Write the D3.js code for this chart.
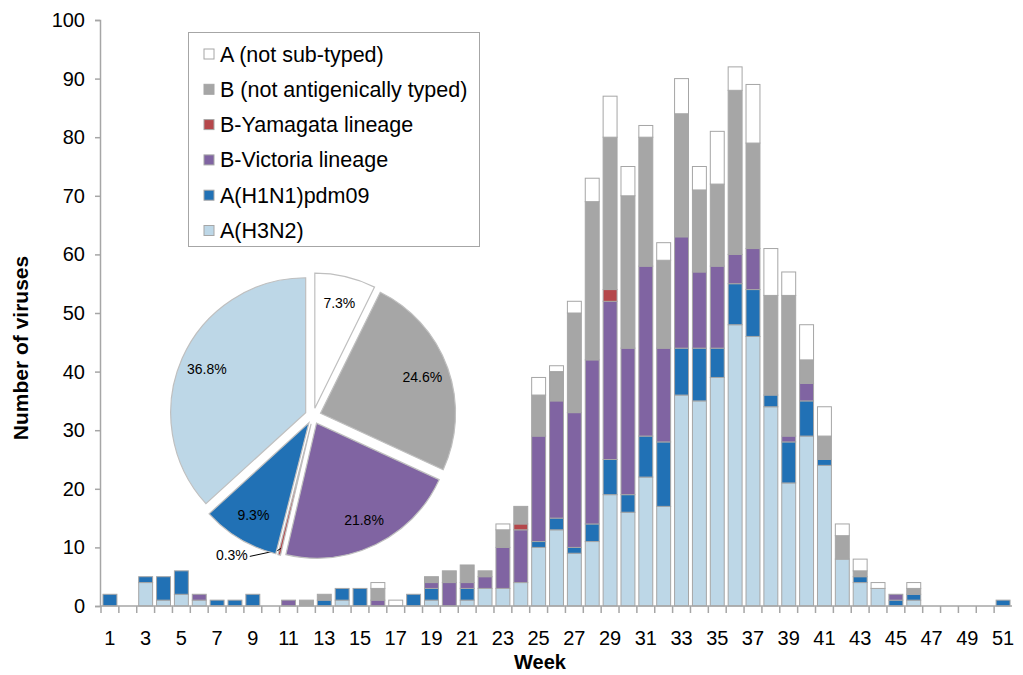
<!DOCTYPE html>
<html>
<head>
<meta charset="utf-8">
<script src="https://cdn.jsdelivr.net/npm/d3@7"></script>
<style>
  body { margin: 0; background: #fff; }
  svg { font-family: "Liberation Sans", Arial, sans-serif; }
</style>
</head>
<body>
<svg id="chart" width="1023" height="675"></svg>
<script>
// weeks 1..51
var weeks = d3.range(1, 52);
var tickWeeks = [1, 3, 5, 7, 9, 11, 13, 15, 17, 19, 21, 23, 25, 27, 29, 31, 33, 35, 37, 39, 41, 43, 45, 47, 49, 51];
var yTicks = [0, 10, 20, 30, 40, 50, 60, 70, 80, 90, 100];

// counts per week (index = week - 1)
var h3n2 = [0,0,4,1,2,1,0,0,0,0, 0,0,0,1,0,0,0,0,1,0, 1,3,3,4,10,13,9,11,19,16, 22,17,36,35,39,48,46,34,21,29, 24,8,4,3,0,1,0,0,0,0, 0];
var h1n1 = [2,0,1,4,4,0,1,1,2,0, 0,0,1,2,3,0,0,2,2,0, 2,0,0,0,1,2,1,3,6,3, 7,11,8,9,5,7,8,2,7,6, 1,0,1,0,1,1,0,0,0,0, 1];
var bVic = [0,0,0,0,0,1,0,0,0,0, 1,0,0,0,0,1,0,0,1,4, 1,2,7,9,18,20,23,28,27,25, 29,16,19,13,14,5,7,0,1,3, 0,0,0,0,1,0,0,0,0,0, 0];
var bYam = [0,0,0,0,0,0,0,0,0,0, 0,0,0,0,0,0,0,0,0,0, 0,0,0,1,0,0,0,0,2,0, 0,0,0,0,0,0,0,0,0,0, 0,0,0,0,0,0,0,0,0,0, 0];
var bNot = [0,0,0,0,0,0,0,0,0,0, 0,1,1,0,0,2,0,0,1,2, 3,1,3,3,7,5,17,27,26,26, 22,15,21,14,14,28,18,17,24,4, 4,4,1,0,0,1,0,0,0,0, 0];
var aNot = [0,0,0,0,0,0,0,0,0,0, 0,0,0,0,0,1,1,0,0,0, 0,0,1,0,3,1,2,4,7,5, 2,3,6,4,9,4,10,8,4,6, 5,2,2,1,0,1,0,0,0,0, 0];

// pie shares (%), clockwise from 12 o'clock
var pieKeys = ["aNot", "bNot", "bVic", "bYam", "h1n1", "h3n2"];
var pieShares = [7.3, 24.6, 21.8, 0.3, 9.3, 36.8];

var stackKeys = ["h3n2", "h1n1", "bVic", "bYam", "bNot", "aNot"];
var legendKeys = ["aNot", "bNot", "bYam", "bVic", "h1n1", "h3n2"];
var names = {
  aNot: "A (not sub-typed)",
  bNot: "B (not antigenically typed)",
  bYam: "B-Yamagata lineage",
  bVic: "B-Victoria lineage",
  h1n1: "A(H1N1)pdm09",
  h3n2: "A(H3N2)"
};
var colors = {
  aNot: "#ffffff",
  bNot: "#a6a6a6",
  bYam: "#b5474b",
  bVic: "#8064a2",
  h1n1: "#2171b5",
  h3n2: "#bdd7e7"
};
var series = {h3n2: h3n2, h1n1: h1n1, bVic: bVic, bYam: bYam, bNot: bNot, aNot: aNot};

var rows = weeks.map(function(w, i){
  var r = {week: w};
  stackKeys.forEach(function(k){ r[k] = series[k][i]; });
  return r;
});

var svg = d3.select("#chart");
var axisCol = "#a6a6a6";

var x = d3.scaleBand().domain(weeks).range([101, 1012]).paddingInner(0.22).paddingOuter(0.11);
var y = d3.scaleLinear().domain([0, 100]).range([606, 20]);

// bars
var stacked = d3.stack().keys(stackKeys)(rows);
svg.append("g").selectAll("g")
  .data(stacked)
  .join("g")
    .attr("fill", function(d){ return colors[d.key]; })
  .selectAll("rect")
  .data(function(d){ return d.filter(function(p){ return p[1] > p[0]; }); })
  .join("rect")
    .attr("x", function(d){ return x(d.data.week); })
    .attr("width", x.bandwidth())
    .attr("y", function(d){ return y(d[1]); })
    .attr("height", function(d){ return y(d[0]) - y(d[1]); })
    .attr("stroke", "#a6a6a6")
    .attr("stroke-width", 1);

// y axis
var yAxis = svg.append("g")
  .attr("transform", "translate(100,0)")
  .call(d3.axisLeft(y).tickValues(yTicks).tickSize(5).tickPadding(10));
yAxis.select(".domain").attr("stroke", axisCol).attr("stroke-width", 1.5);
yAxis.selectAll(".tick line").attr("stroke", axisCol).attr("stroke-width", 1.5);
yAxis.selectAll("text").attr("font-size", 20).attr("fill", "#000").attr("font-family", "Liberation Sans, Arial, sans-serif");

// x axis
var xg = svg.append("g");
xg.append("line")
  .attr("x1", 100).attr("x2", 1012)
  .attr("y1", y(0)).attr("y2", y(0))
  .attr("stroke", axisCol).attr("stroke-width", 1.5);
var step = x.step();
xg.selectAll("line.tk")
  .data(weeks)
  .join("line")
    .attr("class", "tk")
    .attr("x1", function(w){ return x(w) - (step - x.bandwidth()) / 2; })
    .attr("x2", function(w){ return x(w) - (step - x.bandwidth()) / 2; })
    .attr("y1", y(0)).attr("y2", y(0) + 7)
    .attr("stroke", axisCol).attr("stroke-width", 1.5);
xg.selectAll("text")
  .data(tickWeeks)
  .join("text")
    .attr("x", function(w){ return x(w) + x.bandwidth() / 2; })
    .attr("y", 645)
    .attr("text-anchor", "middle")
    .attr("font-size", 20)
    .text(function(w){ return w; });

// axis titles
svg.append("text")
  .attr("x", 540).attr("y", 669)
  .attr("text-anchor", "middle")
  .attr("font-size", 20).attr("font-weight", "bold")
  .text("Week");
svg.append("text")
  .attr("transform", "translate(28,348) rotate(-90)")
  .attr("text-anchor", "middle")
  .attr("font-size", 21).attr("font-weight", "bold")
  .text("Number of viruses");

// legend
var lg = svg.append("g");
lg.append("rect")
  .attr("x", 188.5).attr("y", 32.5)
  .attr("width", 291).attr("height", 214)
  .attr("fill", "#fff").attr("stroke", "#a6a6a6");
var li = lg.selectAll("g.item")
  .data(legendKeys)
  .join("g")
    .attr("class", "item")
    .attr("transform", function(d, i){ return "translate(204," + (54 + i * 35.3) + ")"; });
li.append("rect")
  .attr("x", 0).attr("y", -5)
  .attr("width", 10).attr("height", 10)
  .attr("fill", function(d){ return colors[d]; })
  .attr("stroke", "#a6a6a6");
li.append("text")
  .attr("x", 16).attr("y", 7.5)
  .attr("font-size", 21.5)
  .text(function(d){ return names[d]; });

// pie
var cx = 313, cy = 416, R = 135, explode = 8;
var pieData = d3.pie().sort(null).value(function(d){ return d.v; })
  (pieKeys.map(function(k, i){ return {k: k, v: pieShares[i]}; }));
var arc = d3.arc().innerRadius(0).outerRadius(R);
var labelArc = d3.arc().innerRadius(R * 0.8).outerRadius(R * 0.8);

function offset(d){
  var a = (d.startAngle + d.endAngle) / 2;
  return [explode * Math.sin(a), -explode * Math.cos(a)];
}

var pg = svg.append("g").attr("transform", "translate(" + cx + "," + cy + ")");
var sl = pg.selectAll("g.slice")
  .data(pieData)
  .join("g")
    .attr("class", "slice")
    .attr("transform", function(d){ var o = offset(d); return "translate(" + o[0] + "," + o[1] + ")"; });
sl.append("path")
  .attr("d", arc)
  .attr("fill", function(d){ return colors[d.data.k]; })
  .attr("stroke", "#bfbfbf")
  .attr("stroke-width", 1.2);
sl.filter(function(d){ return d.data.v >= 1; })
  .append("text")
  .attr("transform", function(d){ return "translate(" + labelArc.centroid(d) + ")"; })
  .attr("text-anchor", "middle")
  .attr("dy", "0.35em")
  .attr("font-size", 14)
  .text(function(d){ return d.data.v.toFixed(1) + "%"; });

// small slice: leader line
sl.filter(function(d){ return d.data.v < 1; }).each(function(d){
  var a = (d.startAngle + d.endAngle) / 2;
  var p = [0.95 * R * Math.sin(a), -0.95 * R * Math.cos(a)];
  var g = d3.select(this);
  g.append("polyline")
    .attr("points", [[p[0], p[1]], [p[0] - 3, p[1] + 2], [p[0] - 31, p[1] + 8]].join(" "))
    .attr("fill", "none").attr("stroke", "#000").attr("stroke-width", 1);
  g.append("text")
    .attr("x", p[0] - 33).attr("y", p[1] + 12)
    .attr("text-anchor", "end")
    .attr("font-size", 14)
    .text(d.data.v.toFixed(1) + "%");
});
</script>
</body>
</html>
